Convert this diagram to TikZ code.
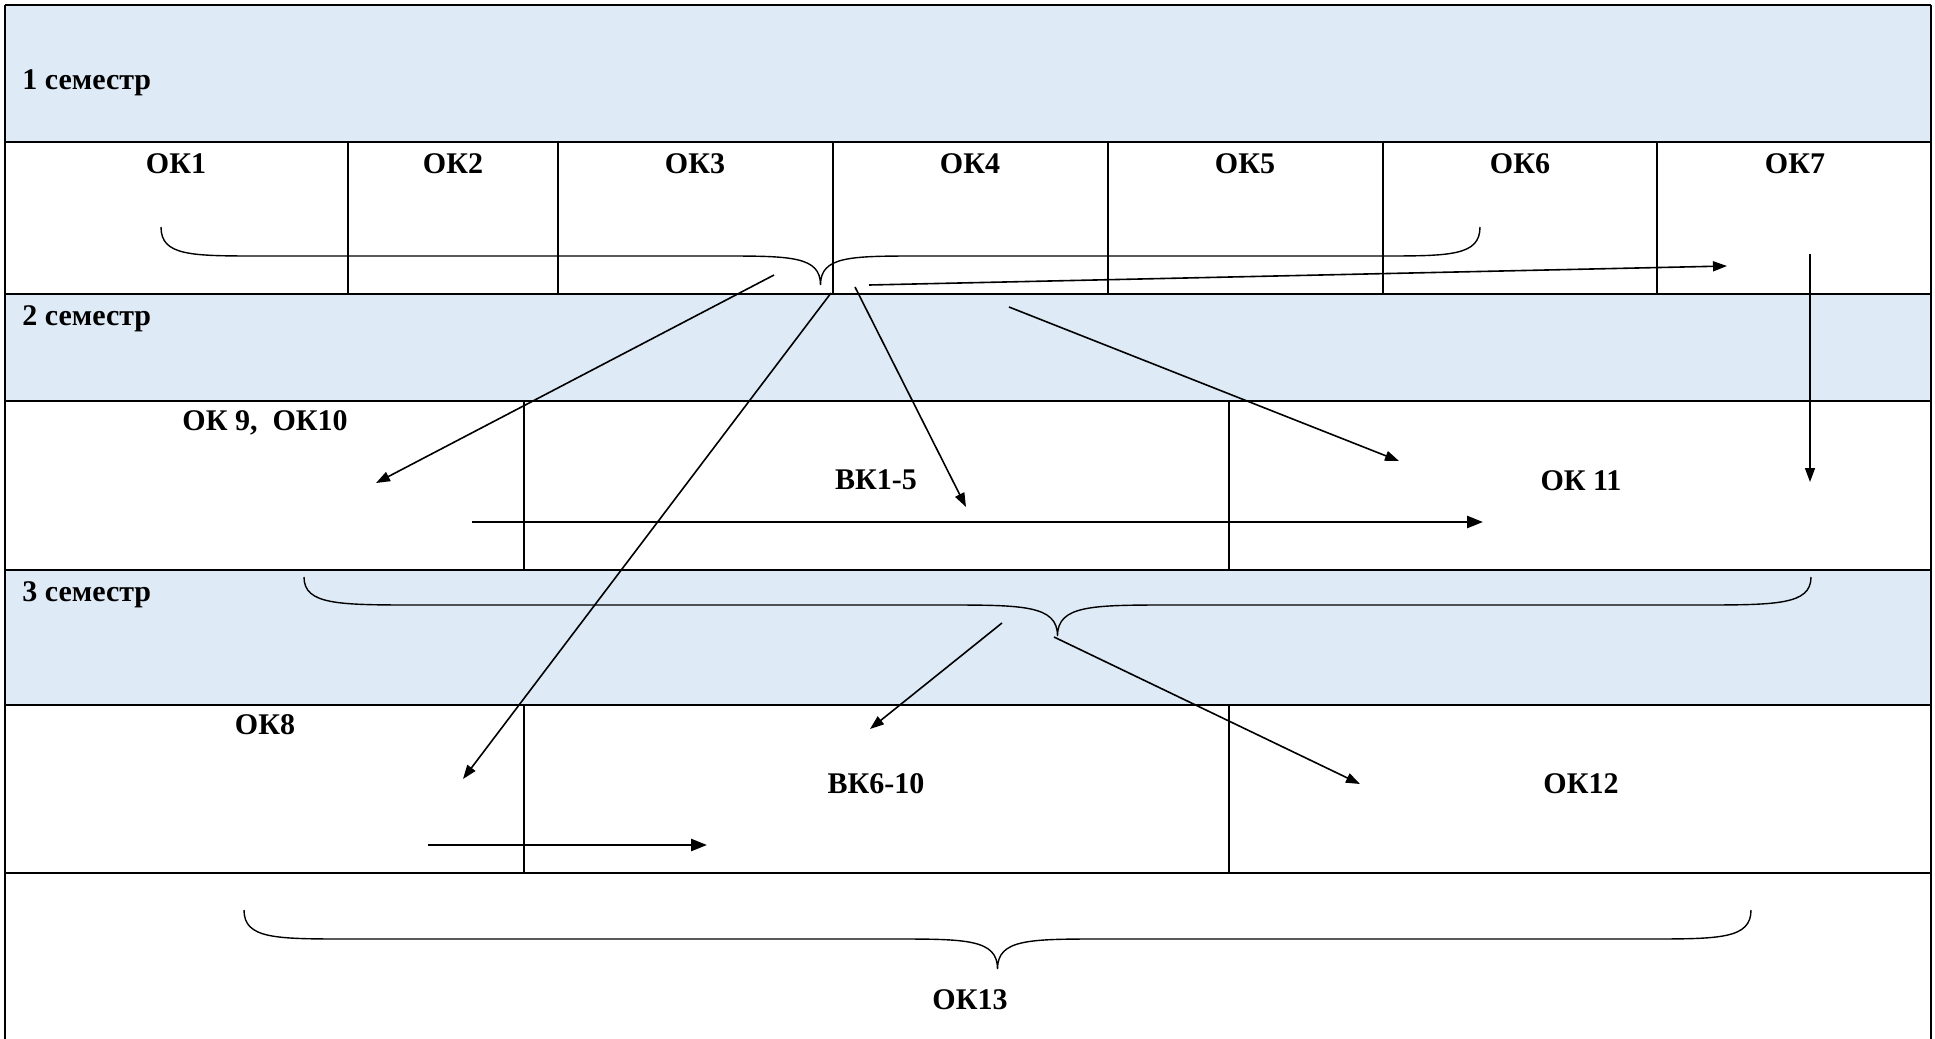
\documentclass[tikz,border=0pt]{standalone}
\usepackage{fontspec}
\setmainfont{Liberation Serif}
\usepackage{tikz}
\usetikzlibrary{arrows.meta}
\definecolor{semblue}{RGB}{222,234,246}
\tikzstyle{band} = [fill=semblue]
\tikzstyle{rule} = [line width=1pt]
\tikzstyle{divider} = [line width=0.6pt]
\tikzstyle{curly} = [line width=0.7pt]
\tikzstyle{sem} = [anchor=base west, inner sep=0pt, font=\fontsize{15}{18}\selectfont\bfseries]
\tikzstyle{cell} = [anchor=base, inner sep=0pt, font=\fontsize{15}{18}\selectfont\bfseries]
\tikzstyle{arrow} = [line width=0.8pt,->,>={Triangle[length=7pt,width=5pt]}]
\tikzstyle{rowarrow} = [line width=1.3pt,->,>={Triangle[length=8pt,width=6pt]}]

\begin{document}
\begin{tikzpicture}[x=0.5pt,y=-0.5pt]
        \useasboundingbox (0,0) rectangle (1935,1039);
        % semester bands
        \fill [band] (5,5) rectangle (1931,142);
        \fill [band] (5,294) rectangle (1931,401);
        \fill [band] (5,570) rectangle (1931,705);
        % table rules
        \foreach \y in {5,142,294,401,570,705,873}
            \draw [rule] (5,\y)--(1931,\y);
        \draw [rule] (5,5)--(5,1039);
        \draw [rule] (1931,5)--(1931,1039);
        \foreach \x in {348,558,833,1108,1383,1657}
            \draw [divider] (\x,142)--(\x,294);
        \foreach \x in {524,1229}{
            \draw [divider] (\x,401)--(\x,570);
            \draw [divider] (\x,705)--(\x,873);}
        % braces
        \foreach \xa/\xb/\ya/\yb/\yc/\r in {161/1480/227/256/285/100, 304/1811/577/605/636/115, 244/1751/910/939/969/105}{
            \pgfmathsetmacro\xm{(\xa+\xb)/2}
            \draw [curly] (\xa,\ya) .. controls (\xa,\yb) and (\xa+0.3*\r,\yb) .. (\xa+\r,\yb)
                -- (\xm-\r,\yb) .. controls (\xm-0.3*\r,\yb) and (\xm,\yb) .. (\xm,\yc)
                .. controls (\xm,\yb) and (\xm+0.3*\r,\yb) .. (\xm+\r,\yb)
                -- (\xb-\r,\yb) .. controls (\xb-0.3*\r,\yb) and (\xb,\yb) .. (\xb,\ya);}
        % texts
        \node(sem1) [sem] at (22,89) {1 семестр};
        \node(sem2) [sem] at (22,325) {2 семестр};
        \node(sem3) [sem] at (22,601) {3 семестр};
        \foreach \x/\n in {176/1,453/2,695/3,970/4,1245/5,1520/6,1795/7}
            \node(ok\n) [cell] at (\x,173) {ОК\n};
        \node(ok910) [cell] at (265,430) {ОК 9,\ \ ОК10};
        \node(vk15) [cell] at (876,489) {ВК1-5};
        \node(ok11) [cell] at (1581,490) {ОК 11};
        \node(ok8) [cell] at (265,734) {ОК8};
        \node(vk610) [cell] at (876,793) {ВК6-10};
        \node(ok12) [cell] at (1581,793) {ОК12};
        \node(ok13) [cell] at (970,1009) {ОК13};
        % arrow ends
        \coordinate (to9s) at (774,275);   \coordinate (to9e) at (376,483);
        \coordinate (to8s) at (831,293);   \coordinate (to8e) at (463,779);
        \coordinate (tovk1s) at (855,287); \coordinate (tovk1e) at (966,507);
        \coordinate (to7s) at (869,285);   \coordinate (to7e) at (1727,266);
        \coordinate (to11s) at (1009,307); \coordinate (to11e) at (1399,461);
        \coordinate (ok7s) at (1810,254);  \coordinate (ok7e) at (1810,482);
        \coordinate (row2s) at (472,522);  \coordinate (row2e) at (1483,522);
        \coordinate (tovk6s) at (1002,623);\coordinate (tovk6e) at (870,729);
        \coordinate (to12s) at (1054,637); \coordinate (to12e) at (1360,784);
        \coordinate (row3s) at (428,845);  \coordinate (row3e) at (707,845);
        \draw [arrow] (to9s)--(to9e);
        \draw [arrow] (to8s)--(to8e);
        \draw [arrow] (tovk1s)--(tovk1e);
        \draw [arrow] (to7s)--(to7e);
        \draw [arrow] (to11s)--(to11e);
        \draw [arrow] (ok7s)--(ok7e);
        \draw [rowarrow] (row2s)--(row2e);
        \draw [arrow] (tovk6s)--(tovk6e);
        \draw [arrow] (to12s)--(to12e);
        \draw [rowarrow] (row3s)--(row3e);
\end{tikzpicture}
\end{document}
